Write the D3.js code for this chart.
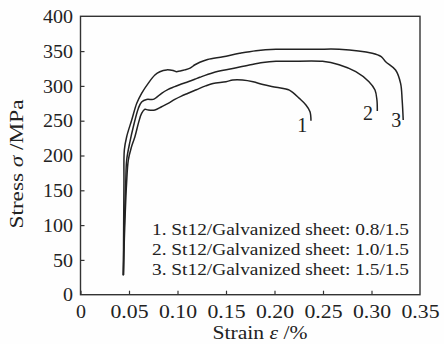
<!DOCTYPE html>
<html><head><meta charset="utf-8">
<script src="https://cdn.jsdelivr.net/npm/d3@7"></script>
<style>body{margin:0;background:#fff}svg{display:block}</style>
</head><body><svg id="c" width="444" height="344"></svg>
<script>
const xTicks = [0,0.05,0.10,0.15,0.20,0.25,0.30,0.35];
const xTickLabels = ["0","0.05","0.10","0.15","0.20","0.25","0.30","0.35"];
const yTicks = [0,50,100,150,200,250,300,350,400];
const legendLabels = ["1. St12/Galvanized sheet: 0.8/1.5","2. St12/Galvanized sheet: 1.0/1.5","3. St12/Galvanized sheet: 1.5/1.5"];
const curveNames = ["1","2","3"];

const strain1 = [0.0442,0.0452,0.0462,0.0475,0.0493,0.0525,0.0561,0.0600,0.0630,0.0664,0.0698,0.0767,0.0836,0.0904,0.0972,0.1040,0.1109,0.1195,0.1290,0.1366,0.1500,0.1570,0.1670,0.1780,0.1880,0.2016,0.2153,0.2256,0.2324,0.2366,0.2376];
const stress1 = [28,80,120,160,193.5,212,227,248,260.5,266.4,265.3,265.3,270,274.8,280.6,285.4,289.4,294.5,300,303.5,306,308.5,308.5,306,302,298,294,282,272.6,263,250];

const strain2 = [0.0442,0.0448,0.0456,0.0466,0.0476,0.0510,0.0544,0.0596,0.0630,0.0682,0.0750,0.0784,0.0836,0.0904,0.0972,0.1040,0.1109,0.1178,0.1230,0.1366,0.1570,0.1740,0.1880,0.2016,0.2154,0.2495,0.2666,0.2838,0.2974,0.3036,0.3056,0.3060];
const stress2 = [28,80,120,160,193.5,220,241,267.6,277,280.6,280.6,283.5,289.4,295,298.9,302.8,306,309.5,312.4,319,325,330,333.6,335.3,335.3,335.3,330.4,320.4,306,294,279.7,264];

const strain3 = [0.0442,0.0445,0.0448,0.0452,0.0476,0.0528,0.0580,0.0630,0.0698,0.0767,0.0818,0.0887,0.0955,0.0990,0.1024,0.1075,0.1130,0.1180,0.1230,0.1310,0.1470,0.1640,0.1810,0.2016,0.2427,0.2666,0.3008,0.3100,0.3146,0.3248,0.3300,0.3316,0.3327];
const stress3 = [28,100,160,208,227,251,275,289.4,303.7,315.7,320.4,323,322,320.4,321.4,323,325.6,330.4,334,338,342,346.8,350.6,352.6,352.6,352.6,346.8,342,334.8,322.9,303.7,279.7,251];

const svg = d3.select("#c");
const W = 444, H = 344;
svg.append("rect").attr("width",W).attr("height",H).attr("fill","#fefefe");

const x = d3.scaleLinear().domain([0,0.35]).range([80.5,420]);
const y = d3.scaleLinear().domain([0,400]).range([294.7,16.3]);
const font = "'Liberation Serif', 'Times New Roman', serif";
const ink = "#222";
// label width: digits ~10px, period ~8px (matches the wide schoolbook face of the reference)
const labelWidth = s => { let w = 0; for (const ch of s) w += (ch === "." ? 8 : 10); return w; };

// frame
svg.append("rect").attr("x",x(0)).attr("y",y(400)).attr("width",x(0.35)-x(0)).attr("height",y(0)-y(400))
  .attr("fill","none").attr("stroke","#333").attr("stroke-width",1.4);

// x axis
const xa = svg.append("g").attr("transform",`translate(0,${y(0)})`)
  .call(d3.axisBottom(x).tickValues(xTicks).tickSizeInner(-4).tickSizeOuter(0).tickPadding(0)
    .tickFormat((d,i)=>xTickLabels[i]));
xa.select(".domain").remove();
xa.selectAll(".tick line").attr("stroke","#333").attr("stroke-width",1.2);
xa.selectAll(".tick text").attr("font-family",font).attr("font-size",18.5).attr("fill",ink)
  .attr("y",23.5).attr("dy",0)
  .attr("textLength",(d,i)=>labelWidth(xTickLabels[i])).attr("lengthAdjust","spacingAndGlyphs");
xa.selectAll(".tick").filter(d=>d===0.35).select("line").remove();

// y axis
const ya = svg.append("g").attr("transform",`translate(${x(0)},0)`)
  .call(d3.axisLeft(y).tickValues(yTicks).tickSizeInner(-4).tickSizeOuter(0).tickPadding(0)
    .tickFormat(d3.format("d")));
ya.select(".domain").remove();
ya.selectAll(".tick line").attr("stroke","#333").attr("stroke-width",1.2);
ya.selectAll(".tick text").attr("font-family",font).attr("font-size",18.5).attr("fill",ink)
  .attr("x",-7.5).attr("dy","0.34em")
  .attr("textLength",d=>labelWidth(String(d))).attr("lengthAdjust","spacingAndGlyphs");
ya.selectAll(".tick").filter(d=>d===0||d===400).select("line").remove();

// axis titles
const xt = svg.append("text").attr("x",260).attr("y",339).attr("text-anchor","middle")
  .attr("font-family",font).attr("font-size",18).attr("fill",ink)
  .attr("textLength",95).attr("lengthAdjust","spacingAndGlyphs");
xt.append("tspan").text("Strain ");
xt.append("tspan").attr("font-style","italic").text("ε");
xt.append("tspan").text(" /%");

const yt = svg.append("text").attr("transform","translate(23,164) rotate(-90)").attr("text-anchor","middle")
  .attr("font-family",font).attr("font-size",18).attr("fill",ink)
  .attr("textLength",129).attr("lengthAdjust","spacingAndGlyphs");
yt.append("tspan").text("Stress ");
yt.append("tspan").attr("font-style","italic").text("σ");
yt.append("tspan").text(" /MPa");

// curves
const line = d3.line().x(d=>x(d[0])).y(d=>y(d[1])).curve(d3.curveCatmullRom.alpha(0.5));
const series = [[strain1,stress1],[strain2,stress2],[strain3,stress3]];
series.forEach(([sx,sy])=>{
  svg.append("path").datum(sx.map((v,i)=>[v,sy[i]])).attr("d",line)
    .attr("fill","none").attr("stroke",ink).attr("stroke-width",1.5).attr("stroke-linejoin","round");
});

// curve number labels
const labelPos = [[0.2285,244],[0.2965,261],[0.3255,251]];
labelPos.forEach((p,i)=>{
  svg.append("text").attr("x",x(p[0])).attr("y",y(p[1])).attr("text-anchor","middle").attr("dy","0.34em")
    .attr("font-family",font).attr("font-size",20).attr("fill",ink).text(curveNames[i]);
});

// legend
legendLabels.forEach((t,i)=>{
  svg.append("text").attr("x",152).attr("y",235+20*i)
    .attr("font-family",font).attr("font-size",17).attr("fill",ink)
    .attr("textLength",257).attr("lengthAdjust","spacingAndGlyphs").text(t);
});
</script></body></html>
